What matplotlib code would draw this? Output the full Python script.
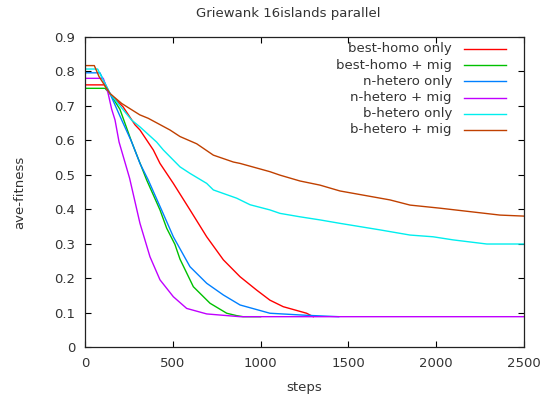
import matplotlib
matplotlib.use("Agg")
import matplotlib.pyplot as plt
from matplotlib.lines import Line2D

# average fitness per island model, read at sampled steps
red_x = [0, 110, 142, 217, 285, 313, 389, 427, 503, 598, 693, 788, 883, 978, 1053, 1129, 1262, 1300]
red_y = [0.761, 0.761, 0.736, 0.697, 0.645, 0.630, 0.572, 0.533, 0.475, 0.398, 0.320, 0.253, 0.204, 0.165, 0.136, 0.117, 0.098, 0.088]

green_x = [0, 114, 142, 199, 266, 351, 427, 465, 512, 541, 617, 712, 807, 864, 900, 1000]
green_y = [0.751, 0.751, 0.736, 0.690, 0.595, 0.485, 0.398, 0.345, 0.298, 0.255, 0.175, 0.127, 0.098, 0.091, 0.088, 0.088]

blue_x = [0, 85, 142, 209, 266, 313, 360, 408, 436, 503, 598, 693, 788, 883, 1053, 1262, 1445]
blue_y = [0.796, 0.796, 0.736, 0.659, 0.595, 0.533, 0.485, 0.430, 0.398, 0.320, 0.233, 0.185, 0.151, 0.122, 0.098, 0.092, 0.088]

purple_x = [0, 104, 130, 152, 171, 194, 254, 313, 370, 427, 503, 579, 693, 883, 2500]
purple_y = [0.780, 0.780, 0.740, 0.690, 0.659, 0.595, 0.490, 0.359, 0.262, 0.195, 0.146, 0.112, 0.096, 0.088, 0.088]

cyan_x = [0, 72, 142, 265, 313, 408, 446, 541, 598, 693, 731, 864, 940, 1053, 1110, 1224, 1338, 1452, 1680, 1851, 1982, 2096, 2288, 2500]
cyan_y = [0.807, 0.807, 0.736, 0.659, 0.639, 0.595, 0.572, 0.523, 0.504, 0.475, 0.456, 0.432, 0.413, 0.398, 0.388, 0.378, 0.369, 0.359, 0.340, 0.325, 0.320, 0.311, 0.299, 0.299]

brown_x = [0, 53, 80, 142, 209, 312, 360, 484, 541, 636, 731, 845, 883, 1053, 1110, 1224, 1338, 1452, 1737, 1851, 2022, 2363, 2500]
brown_y = [0.817, 0.817, 0.785, 0.736, 0.707, 0.674, 0.664, 0.630, 0.611, 0.590, 0.557, 0.537, 0.533, 0.509, 0.499, 0.482, 0.470, 0.453, 0.427, 0.412, 0.403, 0.383, 0.380]

labels = ["best-homo only", "best-homo + mig", "n-hetero only",
          "n-hetero + mig", "b-hetero only", "b-hetero + mig"]
colors = ["#ff0000", "#00c000", "#0080ff", "#c000ff", "#00eeee", "#c04000"]
xs = [red_x, green_x, blue_x, purple_x, cyan_x, brown_x]
ys = [red_y, green_y, blue_y, purple_y, cyan_y, brown_y]

plt.rcParams["font.family"] = "DejaVu Sans"
txt = "#333333"

fig = plt.figure(figsize=(5.49, 4.01), dpi=100)
ax = fig.add_axes([85 / 549, 54 / 401, 439 / 549, 310 / 401])

for x, y, c in zip(xs, ys, colors):
    ax.plot(x, y, color=c, lw=1.0)

ax.set_xlim(0, 2500)
ax.set_ylim(0, 0.9)
ax.set_xticks([0, 500, 1000, 1500, 2000, 2500])
ax.set_yticks([0, 0.1, 0.2, 0.3, 0.4, 0.5, 0.6, 0.7, 0.8, 0.9])
ax.set_yticklabels(["0", "0.1", "0.2", "0.3", "0.4", "0.5", "0.6", "0.7", "0.8", "0.9"])
ax.tick_params(direction="in", length=4, width=0.8, top=True, right=True,
               labelsize=9.5, labelcolor=txt, pad=7)
for s in ax.spines.values():
    s.set_color("#222222")
    s.set_linewidth(0.9)

ax.set_xlabel("steps", fontsize=9.5, color=txt, labelpad=8)
ax.set_ylabel("ave-fitness", fontsize=9.5, color=txt, labelpad=20)
fig.text(288 / 549, 1 - 14 / 401, "Griewank 16islands parallel", ha="center",
         va="center", fontsize=9.5, color=txt)

# key: right-aligned text with the sample line after it
for i, (lab, c) in enumerate(zip(labels, colors)):
    yy = 1 - (49 + i * 16.2 - 37) / 310
    ax.text((452 - 85) / 439, yy, lab, transform=ax.transAxes, ha="right",
            va="center", fontsize=9.5, color=txt)
    ax.add_line(Line2D([(464 - 85) / 439, (506 - 85) / 439], [yy, yy],
                       transform=ax.transAxes, color=c, lw=1.0))

fig.savefig("out.png", dpi=100)
